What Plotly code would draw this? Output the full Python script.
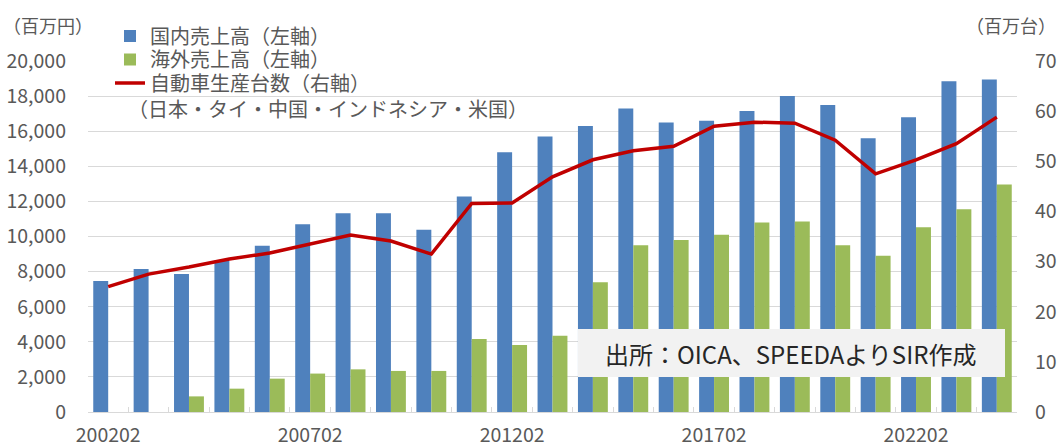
import plotly.graph_objects as go

categories = ["200202", "200302", "200402", "200502", "200602", "200702", "200802", "200902",
              "201002", "201102", "201202", "201302", "201402", "201502", "201602", "201702",
              "201802", "201902", "202002", "202102", "202202", "202302", "202402"]
domestic_sales = [7470, 8150, 7870, 8630, 9470, 10700, 11330, 11330, 10380, 12280, 14800, 15700,
                  16300, 17300, 16500, 16600, 17150, 18000, 17500, 15600, 16800, 18850, 18950]
overseas_sales = [None, None, 890, 1330, 1900, 2190, 2430, 2340, 2340, 4160, 3820, 4350,
                  7400, 9500, 9800, 10100, 10800, 10850, 9500, 8900, 10530, 11550, 12970]
vehicle_production = [25.0, 27.5, 28.9, 30.5, 31.7, 33.5, 35.3, 34.1, 31.5, 41.6, 41.7, 46.9,
                      50.3, 52.1, 53.0, 57.0, 57.8, 57.6, 54.2, 47.5, 50.3, 53.5, 58.8]
x_tick_labels = ["200202", "200702", "201202", "201702", "202202"]

FONT = "Noto Sans CJK JP"
GRAY = "#595959"

W, H = 1059, 448
# plot area in window pixels
L, R, T, B = 88, 1017, 61, 412
PW, PH = R - L, B - T


def px(x):
    return (x - L) / PW


def py(y):
    return (B - y) / PH


fig = go.Figure()
fig.add_trace(go.Bar(x=categories, y=domestic_sales, name="国内売上高（左軸）", legend="legend",
                     marker=dict(color="#4f81bd", line=dict(width=0))))
fig.add_trace(go.Bar(x=categories, y=overseas_sales, name="海外売上高（左軸）", legend="legend2",
                     marker=dict(color="#9bbb59", line=dict(width=0))))
fig.add_trace(go.Scatter(x=categories, y=vehicle_production, name="自動車生産台数（右軸）",
                         legend="legend3", mode="lines",
                         line=dict(color="#c00000", width=3.5), yaxis="y2"))
# invisible helper for boundary tick marks
fig.add_trace(go.Scatter(x=categories, y=[0] * len(categories), xaxis="x2", mode="markers",
                         marker=dict(opacity=0), showlegend=False, hoverinfo="skip"))

legend_common = dict(xanchor="left", yanchor="middle", bgcolor="rgba(0,0,0,0)",
                     font=dict(size=20, color=GRAY, family=FONT), itemwidth=30)

fig.update_layout(
    width=W, height=H,
    margin=dict(l=L, r=W - R, t=T, b=H - B, pad=0),
    plot_bgcolor="white", paper_bgcolor="white",
    barmode="group", bargap=0.26, bargroupgap=0,
    font=dict(family=FONT, color=GRAY, size=19.5),
    showlegend=True,
    legend=dict(x=px(110), y=py(36), **legend_common),
    legend2=dict(x=px(110), y=py(59.5), **legend_common),
    legend3=dict(x=px(110), y=py(83), **legend_common),
    xaxis=dict(type="category", categoryorder="array", categoryarray=categories,
               tickmode="array", tickvals=x_tick_labels, ticktext=x_tick_labels,
               showline=True, linecolor="#d9d9d9", linewidth=1, showgrid=False,
               ticks="", tickfont=dict(size=19.5, color=GRAY), ticklabelstandoff=6,
               range=[-0.5, len(categories) - 0.5], automargin=False),
    xaxis2=dict(type="category", categoryorder="array", categoryarray=categories,
                overlaying="x", anchor="y", side="bottom", showticklabels=False,
                ticks="inside", ticklen=5, tickcolor="#d9d9d9", tickson="boundaries",
                showgrid=False, range=[-0.5, len(categories) - 0.5], automargin=False),
    yaxis=dict(range=[0, 20000], dtick=2000, tickformat=",d", showgrid=True,
               gridcolor="#d9d9d9", gridwidth=1, zeroline=False, ticks="",
               tickfont=dict(size=19.5, color=GRAY), ticklabelstandoff=21, automargin=False),
    yaxis2=dict(range=[0, 70], dtick=10, overlaying="y", side="right", showgrid=False,
                zeroline=False, ticks="", tickfont=dict(size=19.5, color=GRAY),
                ticklabelstandoff=17, automargin=False),
)

fig.add_annotation(text="（百万円）", xref="paper", yref="paper",
                   x=px(1), y=py(25), xanchor="left", yanchor="middle",
                   showarrow=False, font=dict(size=18, color=GRAY))
fig.add_annotation(text="（百万台）", xref="paper", yref="paper",
                   x=px(1058), y=py(25), xanchor="right", yanchor="middle",
                   showarrow=False, font=dict(size=18, color=GRAY))
fig.add_annotation(text="（日本・タイ・中国・インドネシア・米国）", xref="paper", yref="paper",
                   x=px(126), y=py(109), xanchor="left", yanchor="middle",
                   showarrow=False, font=dict(size=20, color=GRAY))

fig.add_shape(type="rect", xref="paper", yref="paper", layer="above",
              x0=px(578), x1=px(1005), y0=py(377), y1=py(329),
              fillcolor="#f2f2f2", line=dict(width=0))
fig.add_annotation(text="出所：OICA、SPEEDAよりSIR作成", xref="paper", yref="paper",
                   x=px(790), y=py(353), xanchor="center", yanchor="middle",
                   showarrow=False, font=dict(size=24, color="#262626"))

fig.write_html("out.html", config={"displayModeBar": False},
               post_script="document.body.style.margin='0px';document.body.style.overflow='hidden';")
